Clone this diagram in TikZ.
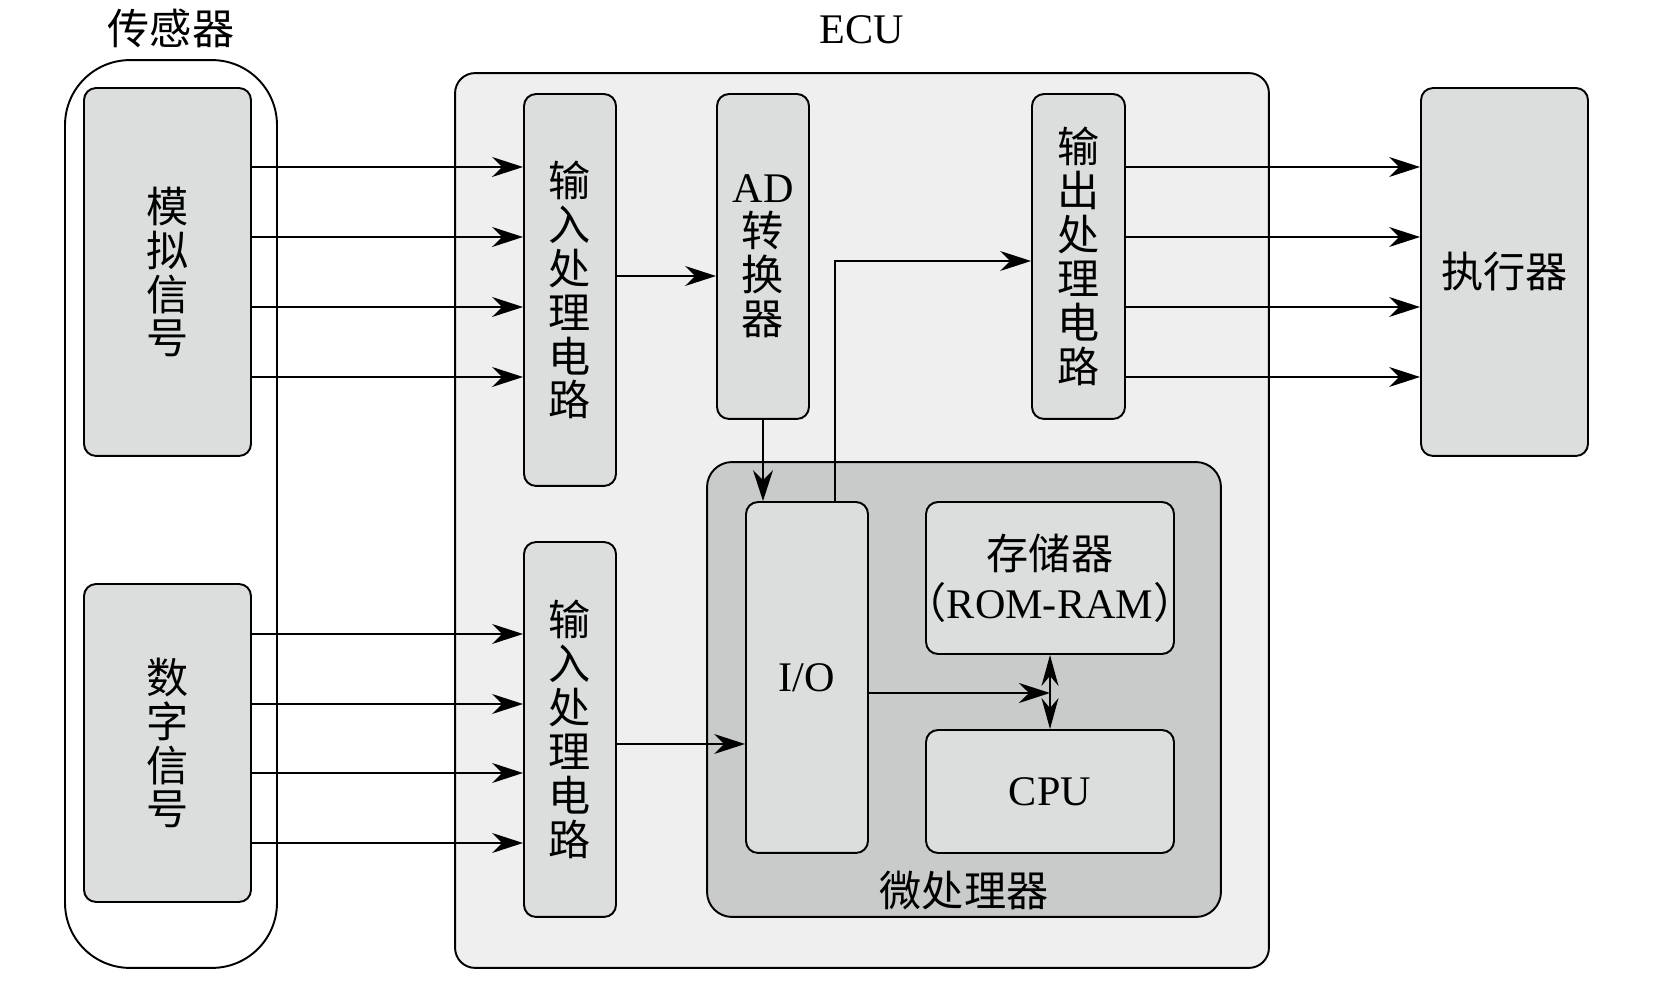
\documentclass[tikz,border=0pt]{standalone}
\usepackage{fontspec}
\setmainfont{Liberation Serif}
\newfontfamily\cjk{Noto Sans CJK SC}
\usetikzlibrary{arrows.meta}
\definecolor{ecugray}{HTML}{EFEFEF}
\definecolor{boxgray}{HTML}{DCDDDD}
\definecolor{mcugray}{HTML}{C9CACA}
\tikzset{blk/.style={draw,line width=1.1pt,rounded corners=0.24cm,fill=boxgray,align=center,inner sep=0pt,font=\cjk\fontsize{24}{25}\selectfont},
grp/.style={draw,line width=1.1pt,inner sep=0pt},
title/.style={font=\cjk\fontsize{24}{25}\selectfont,inner sep=0pt},
link/.style={line width=1.1pt,-{Stealth[length=0.62cm,width=0.4cm,inset=0.2cm]}}}

\begin{document}
\begin{tikzpicture}[x=0.02cm,y=-0.02cm]
\useasboundingbox (0,0) rectangle (1654,982);
% sensor side
\node[grp,rounded corners=1.3cm,fill=white,minimum width=4.24cm,minimum height=18.16cm] (sen) at (171,514) {};
\node[title] (sentit) at (sen.north |- 0,28) {传感器};
\node[blk,minimum width=3.34cm,minimum height=7.36cm] (ana) at (167.5,272) {模\\拟\\信\\号};
\node[blk,minimum width=3.34cm,minimum height=6.36cm] (dig) at (167.5,743) {数\\字\\信\\号};
% ECU
\node[grp,rounded corners=0.4cm,fill=ecugray,minimum width=16.28cm,minimum height=17.9cm] (ecu) at (862,520.5) {};
\node[title,font=\fontsize{24}{25}\selectfont] (ecutit) at (ecu.north |- 0,30) {ECU};
\node[blk,minimum width=1.84cm,minimum height=7.84cm] (in1) at (570,290) {输\\入\\处\\理\\电\\路};
\node[blk,minimum width=1.84cm,minimum height=7.5cm] (in2) at (570,729.5) {输\\入\\处\\理\\电\\路};
\node[blk,minimum width=1.84cm,minimum height=6.5cm] (ad) at (763,256.5) {{\rmfamily AD}\\转\\换\\器};
\node[blk,minimum width=1.86cm,minimum height=6.5cm] (out) at (1078.5,256.5) {输\\出\\处\\理\\电\\路};
\node[grp,rounded corners=0.5cm,fill=mcugray,minimum width=10.28cm,minimum height=9.1cm] (mcu) at (964,689.5) {};
\node[title] (mcutit) at (mcu.south |- 0,891) {微处理器};
\node[blk,font=\fontsize{24}{25}\selectfont,minimum width=2.44cm,minimum height=7.02cm] (io) at (807,677.5) {I/O};
\node[blk,minimum width=4.96cm,minimum height=3.04cm] (mem) at (1050,578) {存储器\\[3pt]\kern-0.6em（{\rmfamily ROM-RAM}）\kern-0.6em};
\node[blk,font=\fontsize{24}{25}\selectfont,minimum width=4.96cm,minimum height=2.46cm] (cpu) at (1050,791.5) {CPU};
% actuator
\node[blk,minimum width=3.34cm,minimum height=7.36cm] (act) at (1504.5,272) {执行器};
% links
\foreach \y in {167,237,307,377}{
  \draw[link] (ana.east |- 0,\y) -- (in1.west |- 0,\y);
  \draw[link] (out.east |- 0,\y) -- (act.west |- 0,\y);
}
\foreach \y in {634,704,773,843}\draw[link] (dig.east |- 0,\y) -- (in2.west |- 0,\y);
\draw[link] (in1.east |- 0,276) -- (ad.west |- 0,276);
\draw[link] (in2.east |- 0,744) -- (io.west |- 0,744);
\draw[link] (ad.south) -- (ad.south |- io.north);
\draw[link] (io.north -| 835,0) |- (out.west |- 0,261);
\coordinate (bus) at (mem.south |- 0,693);
\draw[link] (io.east |- bus) -- (bus);
\draw[link,{Stealth[length=0.62cm,width=0.34cm,inset=0.2cm]}-{Stealth[length=0.62cm,width=0.34cm,inset=0.2cm]}] (mem.south) -- (cpu.north);
\end{tikzpicture}
\end{document}
